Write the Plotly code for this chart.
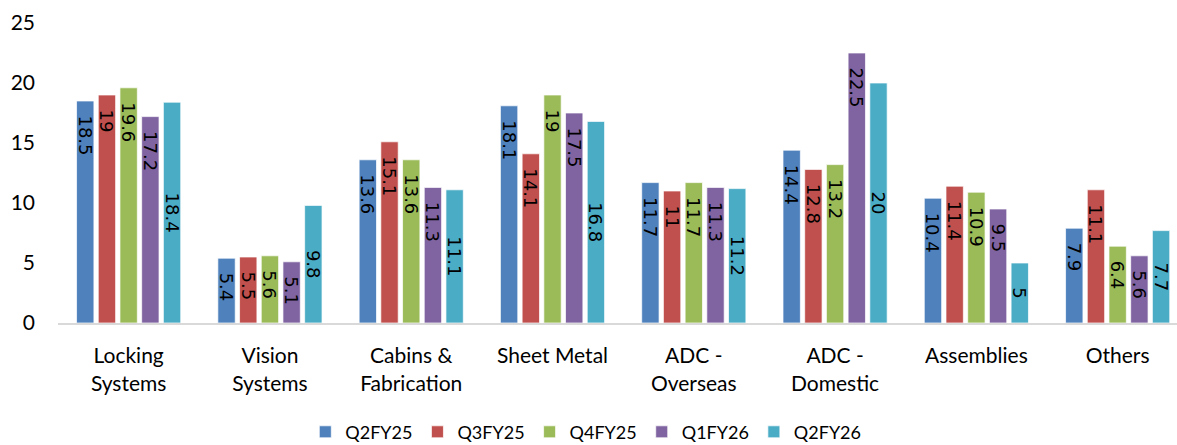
import plotly.graph_objects as go

categories = ["Locking<br>Systems", "Vision<br>Systems", "Cabins &<br>Fabrication", "Sheet Metal",
              "ADC -<br>Overseas", "ADC -<br>Domestic", "Assemblies", "Others"]

q2fy25 = [18.5, 5.4, 13.6, 18.1, 11.7, 14.4, 10.4, 7.9]
q3fy25 = [19, 5.5, 15.1, 14.1, 11, 12.8, 11.4, 11.1]
q4fy25 = [19.6, 5.6, 13.6, 19, 11.7, 13.2, 10.9, 6.4]
q1fy26 = [17.2, 5.1, 11.3, 17.5, 11.3, 22.5, 9.5, 5.6]
q2fy26 = [18.4, 9.8, 11.1, 16.8, 11.2, 20, 5, 7.7]

# (name, values, colour, label anchor inside the bar)
series = [
    ("Q2FY25", q2fy25, "#4F81BD", "end"),
    ("Q3FY25", q3fy25, "#C0504D", "end"),
    ("Q4FY25", q4fy25, "#9BBB59", "end"),
    ("Q1FY26", q1fy26, "#8064A2", "end"),
    ("Q2FY26", q2fy26, "#4BACC6", "middle"),
]

label_font = "Lato, Calibri, Carlito, sans-serif"
NBSP = "\u00a0"

fig = go.Figure()
for name, vals, color, anchor in series:
    # labels anchored at the bar end get a little breathing room below the top
    lead = NBSP * 2 if anchor == "end" else ""
    fig.add_trace(go.Bar(
        name=name,
        x=categories,
        y=vals,
        marker=dict(color=color, line=dict(color="rgba(255,255,255,0.7)", width=1)),
        text=[f"{lead}{v:g}" for v in vals],
        textposition="inside",
        insidetextanchor=anchor,
        textangle=90,
        constraintext="none",
        textfont=dict(family="DejaVu Sans", size=18, color="black"),
        hoverinfo="skip",
    ))

fig.update_layout(
    width=1177,
    height=445,
    margin=dict(l=58, r=0, t=23, b=122, autoexpand=False),
    paper_bgcolor="white",
    plot_bgcolor="white",
    barmode="group",
    bargap=0.232,
    bargroupgap=0.2,
    font=dict(family=label_font, size=21, color="black"),
    showlegend=True,
    legend=dict(
        orientation="h",
        x=0.221, xanchor="left",
        y=-0.302, yanchor="top",
        font=dict(family=label_font, size=18, color="black"),
        itemwidth=30,
        traceorder="normal",
    ),
    xaxis=dict(
        range=[-0.5, 7.42],
        automargin=False,
        showline=True,
        linecolor="#D9D9D9",
        linewidth=2,
        ticks="",
        showgrid=False,
        tickfont=dict(family=label_font, size=21, color="black"),
        ticklabelstandoff=13,
    ),
    yaxis=dict(
        range=[0, 25],
        automargin=False,
        tickvals=[0, 5, 10, 15, 20, 25],
        showgrid=False,
        showline=False,
        zeroline=False,
        ticks="",
        tickfont=dict(family=label_font, size=21, color="black"),
        ticklabelstandoff=22,
    ),
)

fig.write_html("out.html")
